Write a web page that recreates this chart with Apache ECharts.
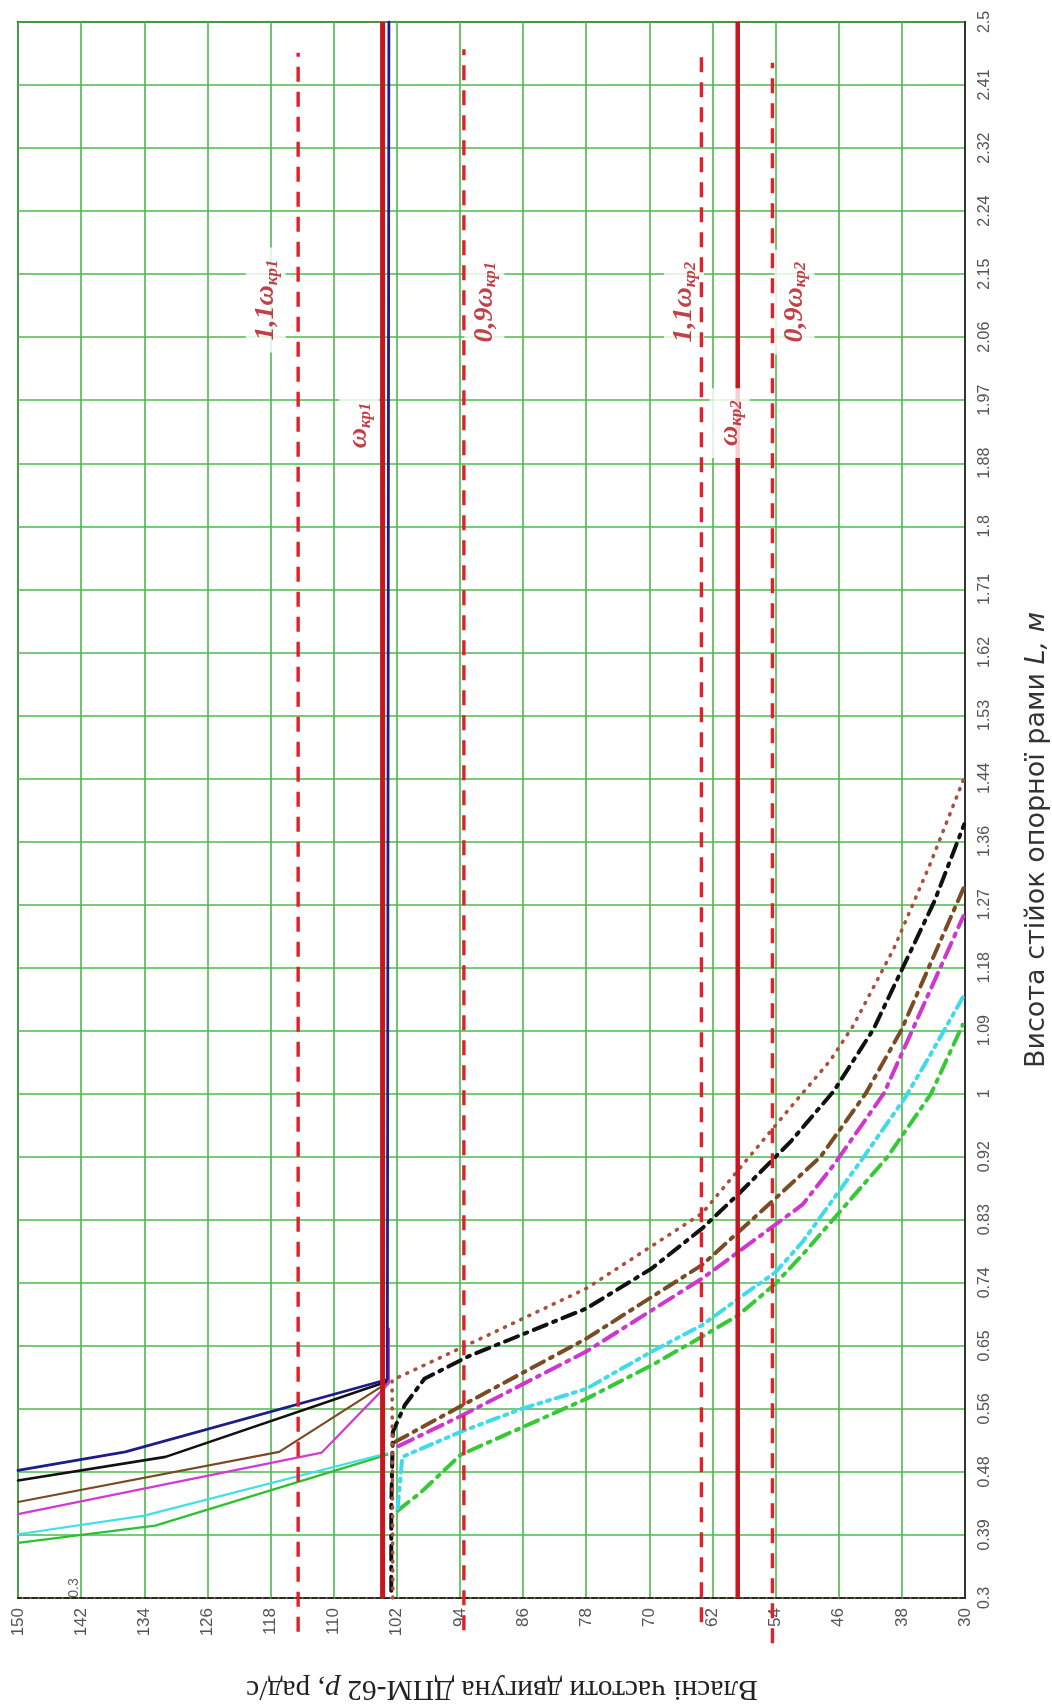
<!DOCTYPE html>
<html>
<head>
<meta charset="utf-8">
<script src="https://cdn.jsdelivr.net/npm/echarts@6/dist/echarts.min.js"></script>
<style>
  html, body { margin: 0; padding: 0; background: #ffffff; }
  #chart { width: 1052px; height: 1706px; }
</style>
</head>
<body>
<div id="chart"></div>
<script>
// Frequency axis p (rad/s): tick values
const pTicks = [150, 142, 134, 126, 118, 110, 102, 94, 86, 78, 70, 62, 54, 46, 38, 30];

// Height axis L (m): tick labels, evenly spaced between 0.3 and 2.5
const lTickLabels = ['0.3', '0.39', '0.48', '0.56', '0.65', '0.74', '0.83', '0.92', '1', '1.09',
  '1.18', '1.27', '1.36', '1.44', '1.53', '1.62', '1.71', '1.8', '1.88', '1.97', '2.06',
  '2.15', '2.24', '2.32', '2.41', '2.5'];
const lMin = 0.3, lMax = 2.5;

// First-mode curves, [p, L]
const solidBlue    = [[150, 0.478], [136.4, 0.504], [103.2, 0.605], [103.0, 0.605], [103.0, 2.5]];
const solidBlack   = [[150, 0.464], [131.3, 0.497], [103.3, 0.602]];
const solidBrown   = [[150, 0.434], [116.9, 0.504], [103.4, 0.599]];
const solidMagenta = [[150, 0.417], [111.5, 0.503], [103.5, 0.594], [103.0, 0.600], [103.0, 0.676]];
const solidCyan    = [[150, 0.389], [134.0, 0.415], [103.2, 0.502]];
const solidGreen   = [[150, 0.377], [132.6, 0.401], [103.2, 0.500]];

// Second-mode curves, [p, L]
const dottedBrown = [[102.5, 0.300], [102.6, 0.604], [93.5, 0.651], [78.0, 0.732], [63.3, 0.837],
  [52.1, 0.985], [47.1, 1.050], [44.1, 1.100], [39.0, 1.207], [34.4, 1.325], [30.1, 1.445]];
const dashBlack = [[102.7, 0.310], [102.7, 0.425], [102.5, 0.532], [101.0, 0.569], [98.5, 0.606],
  [93.0, 0.637], [78.0, 0.704], [69.7, 0.760], [63.3, 0.816], [58.6, 0.865], [52.1, 0.937],
  [46.6, 1.008], [41.6, 1.094], [33.9, 1.272], [30.1, 1.380]];
const dashBrown = [[102.2, 0.518], [93.7, 0.569], [78.0, 0.662], [63.3, 0.765], [53.8, 0.860],
  [48.3, 0.916], [42.6, 1.004], [38.1, 1.092], [30.1, 1.293]];
const dashMagenta = [[101.8, 0.512], [93.7, 0.555], [78.0, 0.644], [63.3, 0.746], [50.6, 0.849],
  [46.6, 0.905], [40.3, 1.004], [36.7, 1.092], [30.2, 1.252]];
const dashCyan = [[101.9, 0.425], [101.3, 0.497], [93.9, 0.532], [86.2, 0.564], [78.0, 0.592],
  [69.7, 0.644], [63.3, 0.681], [58.7, 0.718], [54.0, 0.755], [50.6, 0.797], [43.2, 0.910],
  [37.5, 1.000], [34.3, 1.060], [30.1, 1.142]];
const dashGreen = [[101.9, 0.422], [99.0, 0.447], [93.9, 0.500], [78.0, 0.578], [69.7, 0.625],
  [63.3, 0.665], [58.7, 0.695], [54.0, 0.739], [50.6, 0.779], [39.8, 0.916], [34.3, 1.004],
  [30.3, 1.100]];

// Critical frequencies and their ±10 % bands
const critNames = ['1,1ω|кр1', 'ω|кр1', '0,9ω|кр1', '1,1ω|кр2', 'ω|кр2', '0,9ω|кр2'];
const critP     = [114.5, 103.8, 93.5, 63.4, 58.8, 54.4];
const critSolid = [false, true, false, false, true, false];
const critFrom  = [0.253, 0.3, 0.255, 0.266, 0.3, 0.237];
const critTo    = [2.457, 2.5, 2.462, 2.462, 2.5, 2.443];

// ---------------------------------------------------------------------------
const lStep = (lMax - lMin) / (lTickLabels.length - 1);
const lTicks = lTickLabels.map((_, i) => Math.round((lMin + i * lStep) * 1e6) / 1e6);

const GRID_GREEN = '#4cb84c';
const RED_DASH = '#e0202a';
const RED_SOLID = '#c8161e';
const LABEL_RED = '#b3121b';

function curve(data, color, width, type) {
  return {
    type: 'line', data: data, symbol: 'none', silent: true, z: 3,
    lineStyle: { color: color, width: width, type: type, cap: 'round', join: 'round' }
  };
}

const series = [
  curve(solidGreen, '#2fc02f', 2.4, 'solid'),
  curve(solidCyan, '#3fe0e6', 2.2, 'solid'),
  curve(solidMagenta, '#d23ad2', 2.2, 'solid'),
  curve(solidBrown, '#7a4a22', 2.2, 'solid'),
  curve(solidBlack, '#111111', 2.6, 'solid'),
  curve(solidBlue, '#1c1c8a', 2.8, 'solid'),
  curve(dashGreen, '#35c935', 4, [14, 7, 3, 7]),
  curve(dashCyan, '#3fdbe8', 4, [12, 6, 3, 6, 3, 6]),
  curve(dashMagenta, '#cf35cf', 4, [16, 7, 3, 7]),
  curve(dashBrown, '#7b4b26', 4, [14, 7, 3, 7]),
  curve(dashBlack, '#111111', 4, [14, 7, 3, 7]),
  curve(dottedBrown, '#a9503e', 3.6, [1, 8])
];

// Solid critical lines sit under the caption boxes, dashed band limits above them
critP.forEach((p, i) => {
  series.push({
    type: 'line', silent: true, symbol: 'none', clip: false, z: critSolid[i] ? 4 : 6,
    data: [[p, critFrom[i]], [p, critTo[i]]],
    lineStyle: critSolid[i]
      ? { color: RED_SOLID, width: i === 1 ? 5 : 4.5, type: 'solid' }
      : { color: RED_DASH, width: 3.4, type: [15, 10] }
  });
});

// Caption anchors for the critical-frequency lines, [p, L]
const critLabelAt = [[118.6, 2.112], [106.8, 1.937], [90.9, 2.109], [65.6, 2.109], [59.8, 1.940], [51.6, 2.109]];

series.push({
  type: 'scatter', silent: true, z: 5, symbolSize: 1,
  itemStyle: { color: 'rgba(0,0,0,0)' },
  data: critLabelAt.map((c, i) => ({ value: c, name: critNames[i] })),
  label: {
    show: true, position: 'inside', rotate: 90,
    backgroundColor: '#ffffff', padding: [5, 12, 5, 12],
    formatter: (prm) => {
      const parts = prm.name.split('|');
      return '{m|' + parts[0] + '}{s|' + parts[1] + '}';
    },
    rich: {
      m: { fontFamily: 'Liberation Serif', fontStyle: 'italic', fontWeight: 'bold', fontSize: 28,
           color: LABEL_RED, lineHeight: 30 },
      s: { fontFamily: 'Liberation Serif', fontStyle: 'italic', fontWeight: 'bold', fontSize: 17,
           color: LABEL_RED, lineHeight: 12, verticalAlign: 'bottom' }
    }
  }
});

const chart = echarts.init(document.getElementById('chart'), null, { renderer: 'canvas' });
chart.setOption({
  animation: false,
  backgroundColor: '#ffffff',
  grid: {
    show: true, left: 18, top: 22, width: 947, height: 1576,
    borderColor: '#333333', borderWidth: 2, backgroundColor: '#ffffff',
    containLabel: false, outerBoundsMode: 'none'
  },
  xAxis: {
    type: 'value', min: 30, max: 150, inverse: true, position: 'bottom',
    axisLine: { show: true, onZero: false, lineStyle: { color: '#3a2020', width: 2, type: [5, 3] } },
    axisTick: { show: false, customValues: pTicks },
    axisLabel: {
      customValues: pTicks, rotate: 90, margin: 10, color: '#555555',
      fontFamily: 'Liberation Sans', fontSize: 17
    },
    splitLine: { show: true, lineStyle: { color: GRID_GREEN, width: 1.6 } }
  },
  yAxis: {
    type: 'value', min: lMin, max: lMax, position: 'right',
    axisLine: { show: true, onZero: false, lineStyle: { color: '#333333', width: 2 } },
    axisTick: { show: false, customValues: lTicks },
    axisLabel: {
      customValues: lTicks, rotate: 90, margin: 12, color: '#555555',
      fontFamily: 'Liberation Sans', fontSize: 16,
      formatter: (v) => lTickLabels[Math.round((v - lMin) / lStep)]
    },
    splitLine: { show: true, lineStyle: { color: GRID_GREEN, width: 1.6 } }
  },
  graphic: [
    {
      type: 'text', x: 1037, y: 840, rotation: Math.PI / 2, silent: true,
      style: {
        text: '{a|Висота стійок опорної рами }{i|L, м}',
        align: 'center', verticalAlign: 'middle',
        rich: {
          a: { fontFamily: 'DejaVu Sans', fontSize: 27, fill: '#333333' },
          i: { fontFamily: 'DejaVu Sans', fontSize: 27, fontStyle: 'italic', fill: '#333333' }
        }
      }
    },
    {
      type: 'text', x: 502, y: 1689, rotation: Math.PI, silent: true,
      style: {
        text: '{a|Власні частоти двигуна ДПМ-62 }{i|p}{a|, рад/с}',
        align: 'center', verticalAlign: 'middle',
        rich: {
          a: { fontFamily: 'Liberation Serif', fontSize: 29.5, fill: '#222222' },
          i: { fontFamily: 'Liberation Serif', fontSize: 29.5, fontStyle: 'italic', fill: '#222222' }
        }
      }
    },
    {
      type: 'text', x: 74, y: 1588, rotation: Math.PI / 2, silent: true,
      style: {
        text: '0.3', align: 'center', verticalAlign: 'middle',
        fontFamily: 'Liberation Sans', fontSize: 14, fill: '#666666'
      }
    }
  ],
  series: series
});
</script>
</body>
</html>
